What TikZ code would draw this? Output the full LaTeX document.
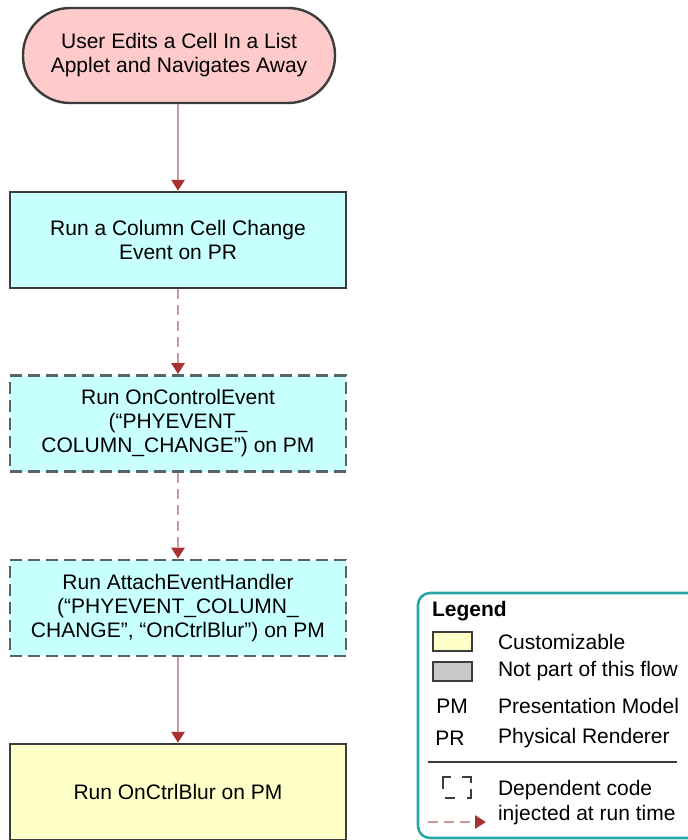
\documentclass[tikz,border=0pt]{standalone}
\usepackage{fontspec}
\setmainfont{Liberation Sans}
\usetikzlibrary{arrows.meta}
\definecolor{startpink}{HTML}{FFCACA}
\definecolor{flowcyan}{HTML}{C8FFFF}
\definecolor{custyellow}{HTML}{FFFFC8}
\definecolor{offgray}{HTML}{C8C8C8}
\definecolor{boxgray}{HTML}{3C3C3C}
\definecolor{dashgray}{HTML}{566666}
\definecolor{flowline}{HTML}{D09A9A}
\definecolor{flowtip}{HTML}{A83232}
\definecolor{legendteal}{HTML}{2BA6A6}
\tikzset{
  txt/.style={font=\fontsize{10.5}{12}\selectfont},
  flowbox/.style={txt, draw=boxgray, line width=1.2pt, fill=flowcyan, minimum width=168pt,
    minimum height=48pt, inner sep=0pt, align=center},
  injectedbox/.style={flowbox, draw=dashgray, line width=1.4pt, dash pattern=on 6pt off 3pt},
  flow/.style={draw=flowline, line width=1.4pt, -{Triangle[length=5.5pt,width=6.5pt,color=flowtip]}},
  injectedflow/.style={flow, dash pattern=on 5pt off 3pt},
  swatch/.style={draw=boxgray, line width=1pt, minimum width=19.5pt, minimum height=9.5pt, inner sep=0pt},
}

\begin{document}
\begin{tikzpicture}[x=0.5pt, y=-0.5pt]
\useasboundingbox (0,0) rectangle (687,840);

% main flow
\node[txt, draw=boxgray, line width=1.2pt, fill=startpink, rounded corners=23.5pt, minimum width=156pt,
  minimum height=47.5pt, inner sep=0pt, align=center] (edit) at (179,55.5)
  {User Edits a Cell In a List\\Applet and Navigates Away};
\node[flowbox] (colchange) at (178,240) {Run a Column Cell Change\\Event on PR};
\node[injectedbox] (ctrlevent) at (178,423.5) {Run OnControlEvent\\(“PHYEVENT\_\\COLUMN\_CHANGE”) on PM};
\node[injectedbox] (attach) at (178,608) {Run AttachEventHandler\\(“PHYEVENT\_COLUMN\_\\CHANGE”, “OnCtrlBlur”) on PM};
\node[flowbox, fill=custyellow] (blur) at (178,792) {Run OnCtrlBlur on PM};

\draw[flow] (edit.south -| colchange) -- (colchange.north);
\draw[injectedflow] (colchange) -- (ctrlevent);
\draw[injectedflow] (ctrlevent) -- (attach);
\draw[flow] (attach) -- (blur);

% legend
\draw[legendteal, line width=1.3pt, rounded corners=6pt] (418,593) rectangle (710,838);
\node[txt, font=\fontsize{10.5}{12}\selectfont\bfseries, anchor=west] (legend) at (425,611) {Legend};
\node[swatch, fill=custyellow] (swcust) at (452.5,641.5) {};
\node[swatch, fill=offgray] (swoff) at (452.5,671) {};
\node[txt, anchor=west] (lcust) at (491,642) {Customizable};
\node[txt, anchor=west] (loff) at (491,671) {Not part of this flow};
\node[txt] (pm) at (452,706) {PM};
\node[txt, anchor=west] (lpm) at (491,706) {Presentation Model};
\node[txt] (pr) at (450,738) {PR};
\node[txt, anchor=west] (lpr) at (491,738) {Physical Renderer};
\draw[boxgray, line width=1pt] (428,762) -- (677,762);
% dashed-box icon, drawn as four corner brackets
\begin{scope}[boxgray, line width=1.1pt]
  \draw (443,789) -- (443,777) -- (451,777);
  \draw (462,777) -- (471,777) -- (471,783);
  \draw (445,798) -- (455,798);
  \draw (471,789) -- (471,798) -- (467,798);
\end{scope}
\node[txt, anchor=west] (ldep) at (491,790) {Dependent code};
\node[txt, anchor=west] (linj) at (491,815) {injected at run time};
\coordinate (injfrom) at (428,822);
\coordinate (injto) at (486,822);
\draw[injectedflow] (injfrom) -- (injto);
\end{tikzpicture}
\end{document}
